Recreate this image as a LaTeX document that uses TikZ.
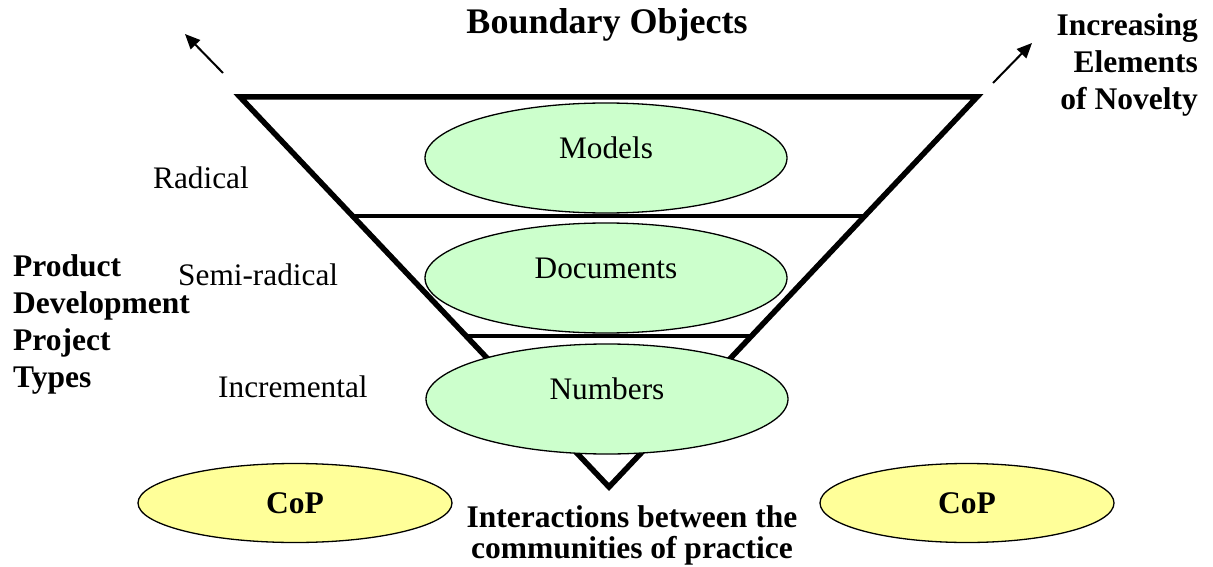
\documentclass[tikz,border=0pt]{standalone}
\usepackage{fontspec}
\setmainfont{Liberation Serif}
\usetikzlibrary{arrows.meta,calc,shapes.geometric}
\definecolor{boFill}{HTML}{CCFFCC}
\definecolor{copFill}{HTML}{FFFF99}
\begin{document}
\begin{tikzpicture}[x=1pt,y=-1pt,
  funnel/.style={line width=5.5pt,line join=miter},
  tier/.style={line width=4pt},
  bobj/.style={ellipse,draw,line width=1.3pt,fill=boFill,inner sep=0pt,
    minimum width=362pt,minimum height=110pt},
  cop/.style={ellipse,draw,line width=1.3pt,fill=copFill,inner sep=0pt,
    minimum height=79pt,font=\fontsize{31.5}{37}\selectfont\bfseries},
  lbl/.style={inner sep=0pt,font=\fontsize{31.3}{37}\selectfont},
  blbl/.style={inner sep=0pt,font=\fontsize{31.5}{37}\selectfont\bfseries},
  trend/.style={line width=2pt,-{Triangle[length=15pt,width=13pt]}}]
\useasboundingbox (0,0) rectangle (1213,567);

% funnel outline
\coordinate (TL) at (240,97);
\coordinate (TR) at (977,97);
\coordinate (B)  at (609,487);
\draw[funnel] (TL) -- (TR) -- (B) -- cycle;

% tier separators
\coordinate (s1l) at ($(TL)!0.305!(B)$);
\coordinate (s1r) at ($(TR)!0.305!(B)$);
\coordinate (s2l) at ($(TL)!0.613!(B)$);
\coordinate (s2r) at ($(TR)!0.613!(B)$);
\draw[tier] (s1l) -- (s1r);
\draw[tier] (s2l) -- (s2r);

% boundary objects
\node[bobj] (models) at (606,158) {};
\node[lbl,anchor=base] (modelsT) at (models.center) {Models};
\node[bobj] (docs) at (606,278) {};
\node[lbl,anchor=base] (docsT) at (docs.center) {Documents};
\node[bobj] (nums) at (607,399) {};
\node[lbl,anchor=base] (numsT) at (nums.center) {Numbers};

% communities of practice
\node[cop,minimum width=314pt] (copL) at (295,503) {CoP};
\node[cop,minimum width=294pt] (copR) at (967,503) {CoP};

% headings and labels (base anchor of a multi-line node = last line)
\node[inner sep=0pt,anchor=base,font=\fontsize{36}{40}\selectfont\bfseries]
  (title) at (607,34) {Boundary Objects};
\node[blbl,anchor=base east,align=right] (novelty) at (1198,110)
  {Increasing\\Elements\\of Novelty};
\node[blbl,anchor=base west,align=left] (types) at (13,387)
  {Product\\Development\\Project\\Types};
\node[lbl,anchor=base west] (radical) at (153,188) {Radical};
\node[lbl,anchor=base west] (semi) at (178,285) {Semi-radical};
\node[lbl,anchor=base west] (incr) at (218,397) {Incremental};
\node[inner sep=0pt,font=\fontsize{31.5}{31}\selectfont\bfseries,
  anchor=base,align=center] (inter) at (632,558)
  {Interactions between the\\communities of practice};

% novelty trend arrows
\coordinate (aLs) at (223,73);
\coordinate (aLe) at (185,34);
\coordinate (aRs) at (993,83);
\coordinate (aRe) at (1032,43);
\draw[trend] (aLs) -- (aLe);
\draw[trend] (aRs) -- (aRe);
\end{tikzpicture}
\end{document}
